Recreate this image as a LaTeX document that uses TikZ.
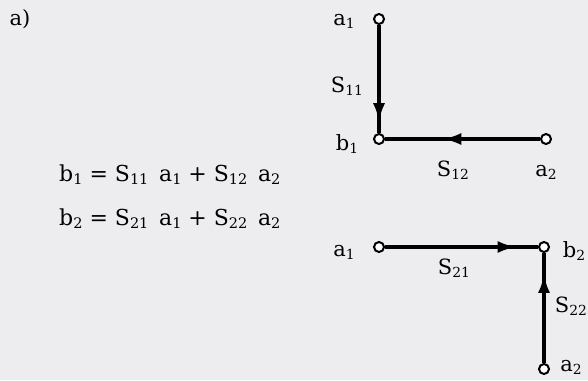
\documentclass[tikz,border=0pt]{standalone}
\usepackage{fontspec}
\setmainfont{DejaVu Serif}
\usetikzlibrary{arrows.meta,decorations.markings}
\definecolor{paper}{RGB}{237,237,240}
\newcommand{\sbx}[1]{\raisebox{-0.3ex}{\fontsize{0.66\dimexpr\fontdimen6\font\relax}{1}\selectfont #1}}
\tikzset{
  port/.style={circle, draw, line width=2pt, fill=white, inner sep=0pt, minimum size=10pt},
  flow/.style={line width=3.6pt, postaction={decorate},
    decoration={markings, mark=at position #1 with {\arrow{Latex[length=19pt,width=12pt]}}}},
  lbl/.style={font=\fontsize{21}{25}\selectfont, inner sep=0pt, anchor=base},
  eqn/.style={font=\fontsize{22}{26}\selectfont, inner sep=0pt, anchor=base west}
}
\begin{document}
\begin{tikzpicture}[x=1pt,y=-1pt]
  \fill[paper] (0,0) rectangle (588,380);
  \useasboundingbox (0,0) rectangle (588,380);
  % nodes
  \node[port] (a1t) at (379,19) {};
  \node[port] (b1)  at (379,139) {};
  \node[port] (a2t) at (546,139) {};
  \node[port] (a1b) at (379,247) {};
  \node[port] (b2)  at (544,247) {};
  \node[port] (a2b) at (544,369) {};
  % branches
  \draw[flow=0.9]  (a1t) -- (b1);
  \draw[flow=0.63] (a2t) -- (b1);
  \draw[flow=0.86] (a1b) -- (b2);
  \draw[flow=0.81] (a2b) -- (b2);
  % labels
  \node[lbl] (la) at (20,25) {a)};
  \node[lbl] (la1t) at (344,25) {a\sbx{1}};
  \node[lbl] (lS11) at (347,92) {S\sbx{11}};
  \node[lbl] (lb1)  at (347,150) {b\sbx{1}};
  \node[lbl] (lS12) at (453,176) {S\sbx{12}};
  \node[lbl] (la2t) at (546,176) {a\sbx{2}};
  \node[lbl] (la1b) at (344,256) {a\sbx{1}};
  \node[lbl] (lS21) at (454,274) {S\sbx{21}};
  \node[lbl] (lb2)  at (574,257) {b\sbx{2}};
  \node[lbl] (lS22) at (571,312) {S\sbx{22}};
  \node[lbl] (la2b) at (571,371) {a\sbx{2}};
  % equations
  \node[eqn] (e1) at (59,181) {b\sbx{1} = S\sbx{11}\, a\sbx{1} + S\sbx{12}\, a\sbx{2}};
  \node[eqn] (e2) at (59,225) {b\sbx{2} = S\sbx{21}\, a\sbx{1} + S\sbx{22}\, a\sbx{2}};
\end{tikzpicture}
\end{document}
